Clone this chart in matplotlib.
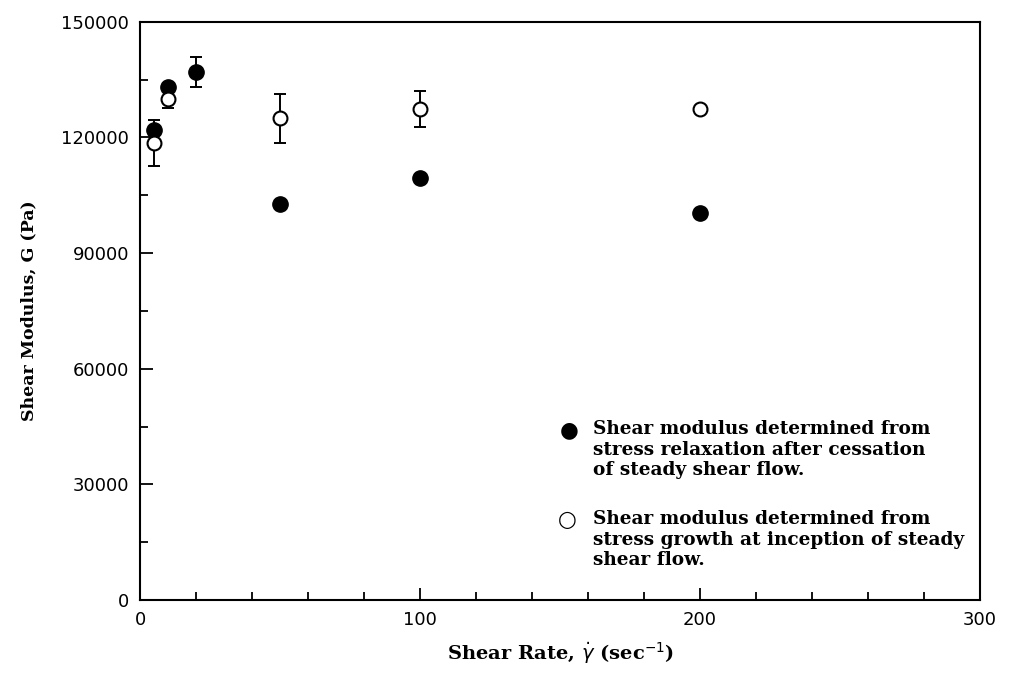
import numpy as np
import matplotlib
matplotlib.use("Agg")
import matplotlib.pyplot as plt
from matplotlib.ticker import MultipleLocator

# shear rate (1/s)
rate_relax = np.array([5, 10, 20, 50, 100, 200])
G_relax = np.array([122000, 133000, 137000, 102700, 109500, 100500])
err_relax = np.array([0, 0, 4000, 0, 0, 0])

rate_growth = np.array([5, 10, 50, 100, 200])
G_growth = np.array([118500, 130000, 125000, 127300, 127500])
err_growth = np.array([6000, 2300, 6300, 4700, 0])

label_relax = "Shear modulus determined from\nstress relaxation after cessation\nof steady shear flow."
label_growth = "Shear modulus determined from\nstress growth at inception of steady\nshear flow."

fig = plt.figure(figsize=(10.11, 6.73), dpi=100)
ax = fig.add_axes([0.1385, 0.1085, 0.831, 0.859])

# filled points first, open ones drawn over them
m = err_relax > 0
ax.errorbar(rate_relax[m], G_relax[m], yerr=err_relax[m], fmt="none",
            ecolor="black", elinewidth=1.4, capsize=4, capthick=1.4, zorder=2)
ax.plot(rate_relax, G_relax, "o", ms=11, mfc="black", mec="black", zorder=3)

m = err_growth > 0
ax.errorbar(rate_growth[m], G_growth[m], yerr=err_growth[m], fmt="none",
            ecolor="black", elinewidth=1.4, capsize=4, capthick=1.4, zorder=4)
ax.plot(rate_growth, G_growth, "o", ms=10, mfc="white", mec="black", mew=1.5, zorder=5)

ax.set_xlim(0, 300)
ax.set_ylim(0, 150000)
ax.xaxis.set_major_locator(MultipleLocator(100))
ax.xaxis.set_minor_locator(MultipleLocator(20))
ax.yaxis.set_major_locator(MultipleLocator(30000))
ax.yaxis.set_minor_locator(MultipleLocator(15000))
ax.tick_params(which="both", direction="in", top=False, right=False, width=1.3)
ax.tick_params(which="major", length=9, labelsize=13, pad=8)
ax.tick_params(which="minor", length=6)
for lab in ax.get_xticklabels() + ax.get_yticklabels():
    lab.set_fontfamily("DejaVu Sans")
for s in ax.spines.values():
    s.set_linewidth(1.5)

serif = dict(family="DejaVu Serif", fontweight="bold")
ax.set_xlabel(r"Shear Rate, $\dot{\gamma}$ (sec$^{-1}$)", fontsize=14, labelpad=8, **serif)
ax.set_ylabel("Shear Modulus, G (Pa)", fontsize=12.5, labelpad=17, **serif)

# legend as text block
ax.text(0.5, 0.294, "\u25cf", transform=ax.transAxes, fontsize=15.5,
        family="DejaVu Sans", va="center", ha="left")
ax.text(0.539, 0.3115, label_relax, transform=ax.transAxes, fontsize=13.3,
        va="top", ha="left", linespacing=1.2, **serif)
ax.text(0.497, 0.138, "\u25cb", transform=ax.transAxes, fontsize=15.5,
        family="DejaVu Sans", va="center", ha="left", fontweight="bold")
ax.text(0.539, 0.156, label_growth, transform=ax.transAxes, fontsize=13.3,
        va="top", ha="left", linespacing=1.2, **serif)

fig.savefig("out.png", dpi=100)
